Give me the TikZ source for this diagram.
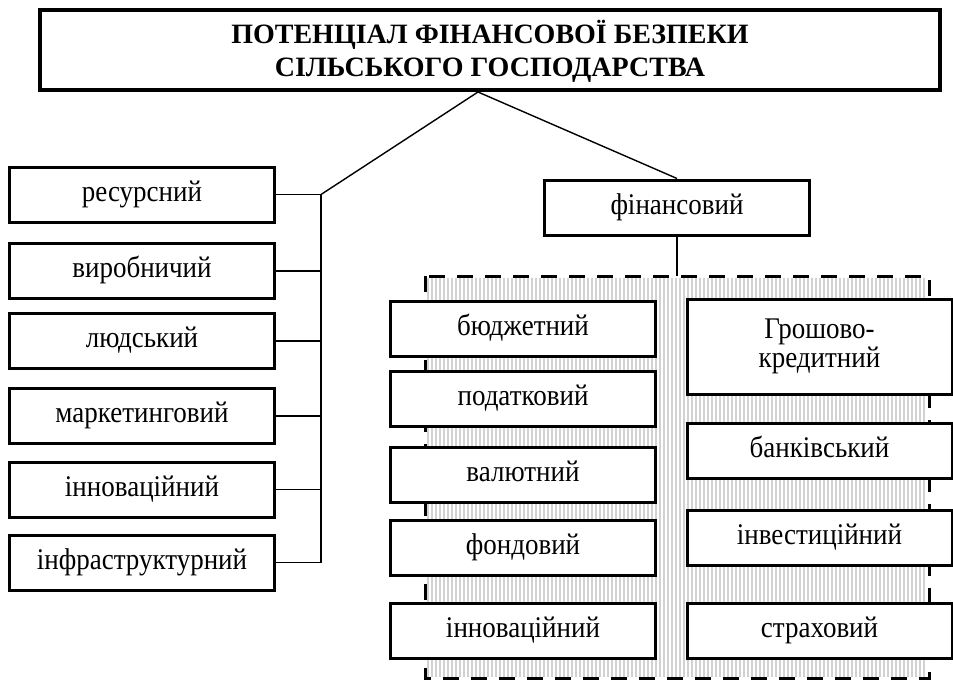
\documentclass[tikz,border=0pt]{standalone}
\usepackage{fontspec}
\usepackage{graphicx}
\setmainfont{Liberation Serif}
\newcommand{\sq}[1]{\scalebox{0.9}[1]{#1}}
\begin{document}
\begin{tikzpicture}[x=1pt,y=-1pt,
  base/.style={draw, line width=3pt, fill=white, minimum width=265pt, minimum height=55pt,
    inner sep=0pt, align=center, font=\fontsize{30}{32}\selectfont},
  box/.style={base, text height=19pt, text depth=5.5pt},
  boxtwo/.style={base, minimum height=95pt},
  titlebox/.style={draw, line width=4pt, fill=white, minimum width=900pt, minimum height=80pt,
    inner sep=0pt},
  titletxt/.style={font=\bfseries\fontsize{28}{33}\selectfont, align=center, inner sep=0pt},
  conn/.style={line width=1.4pt},
  hatch/.style={gray!35, line width=1.8pt},
  frame/.style={line width=3pt, dash pattern=on 16pt off 12pt}]
\useasboundingbox (0,0) rectangle (953,683);

% hatched background and dashed frame
\coordinate (ftl) at (425,276);
\coordinate (fbr) at (929,678);
\foreach \x in {428,432,...,927} \draw[hatch] (\x,277.5) -- (\x,676.5);
\draw[frame] (ftl) rectangle (fbr);

% title
\node[titlebox] (title) at (490,50) {};
\node[titletxt] (titletext) at (490,51)
  {ПОТЕНЦІАЛ ФІНАНСОВОЇ БЕЗПЕКИ\\СІЛЬСЬКОГО ГОСПОДАРСТВА};
\coordinate (apex) at (478,92);

% left column
\node[box] (r1) at (142,194.5) {\sq{ресурсний}};
\node[box] (r2) at (142,271) {\sq{виробничий}};
\node[box] (r3) at (142,341) {\sq{людський}};
\node[box] (r4) at (142,416) {\sq{маркетинговий}};
\node[box] (r5) at (142,489.5) {\sq{інноваційний}};
\node[box] (r6) at (142,562.5) {\sq{інфраструктурний}};
\coordinate (spx) at (321,0);

% financial
\node[box] (fin) at (677,207.5) {\sq{фінансовий}};

% inner left column
\node[box] (a1) at (523,329) {\sq{бюджетний}};
\node[box] (a2) at (523,399) {\sq{податковий}};
\node[box] (a3) at (523,474.5) {\sq{валютний}};
\node[box] (a4) at (523,548) {\sq{фондовий}};
\node[box] (a5) at (523,631) {\sq{інноваційний}};

% inner right column
\node[boxtwo] (b1) at (819.5,347) {\sq{\begin{tabular}{@{}c@{}}Грошово-\\[-3pt]кредитний\end{tabular}}};
\node[box] (b2) at (819.5,451) {\sq{банківський}};
\node[box] (b3) at (819.5,537.5) {\sq{інвестиційний}};
\node[box] (b4) at (819.5,631) {\sq{страховий}};

% connectors
\draw[conn] (apex) -- (r1.east -| spx);
\draw[conn] (apex) -- (fin.north);
\draw[conn] (r1.east -| spx) -- (r6.east -| spx);
\foreach \n in {r1,r2,r3,r4,r5,r6} \draw[conn] (\n.east) -- (\n.east -| spx);
\draw[conn] (fin.south) -- (fin.south |- ftl);
\end{tikzpicture}
\end{document}
